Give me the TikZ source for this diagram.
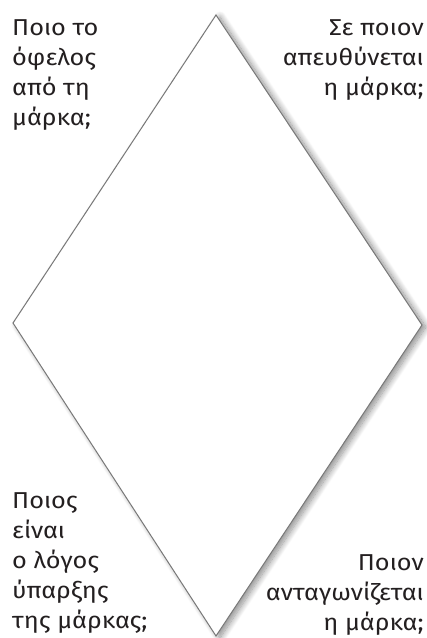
\documentclass[tikz,border=0pt]{standalone}
\usepackage{fontspec}
\setmainfont{Fira Sans}[FakeStretch=1.1]
\usetikzlibrary{shadows.blur}
\definecolor{edgegray}{RGB}{120,120,120}
\definecolor{txt}{RGB}{35,31,32}
\tikzset{
  qtext/.style={inner sep=0pt, text=txt, font=\fontsize{23}{30}\selectfont},
  rhomb/.style={draw=edgegray, line width=1pt, fill=white, line join=miter,
    blur shadow={shadow xshift=4pt, shadow yshift=-2pt, shadow blur steps=12, shadow blur radius=6pt, shadow opacity=45}}
}
\begin{document}
\begin{tikzpicture}[x=1pt,y=-1pt]
\useasboundingbox (0,0) rectangle (427,638);
\coordinate (T) at (216,15);
\coordinate (R) at (422,325);
\coordinate (B) at (216,636);
\coordinate (L) at (13,323);
\path[rhomb] (T) -- (R) -- (B) -- (L) -- cycle;
\node[qtext, anchor=base west, align=left] (tl) at (12,125) {Ποιο το\\όφελος\\από τη\\μάρκα;};
\node[qtext, anchor=base east, align=right] (tr) at (424,95) {Σε ποιον\\απευθύνεται\\η μάρκα;};
\node[qtext, anchor=base west, align=left] (bl) at (12,628) {Ποιος\\είναι\\ο λόγος\\ύπαρξης\\της μάρκας;};
\node[qtext, anchor=base east, align=right] (br) at (424,630) {Ποιον\\ανταγωνίζεται\\η μάρκα;};
\end{tikzpicture}
\end{document}
